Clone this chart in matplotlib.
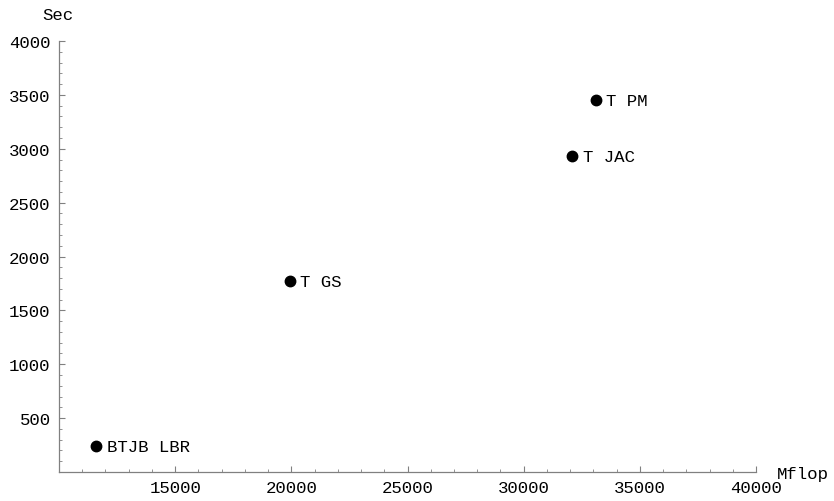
import matplotlib
matplotlib.use('Agg')
import matplotlib.pyplot as plt
from matplotlib.ticker import MultipleLocator

plt.rcParams.update({'font.family': 'Liberation Mono', 'font.size': 12.5})

# timings per method
names = ['BTJB LBR', 'T GS', 'T JAC', 'T PM']
mflop = [11600, 19940, 32100, 33100]
sec = [240, 1770, 2930, 3450]

x_major = [15000, 20000, 25000, 30000, 35000, 40000]
y_major = [500, 1000, 1500, 2000, 2500, 3000, 3500, 4000]

fig = plt.figure(figsize=(8.34, 5.02), dpi=100)
ax = fig.add_axes([59/834, 29/502, (756-59)/834, (473-42)/502])

ax.plot(mflop, sec, 'o', color='black', ms=7.5)
for n, xv, yv in zip(names, mflop, sec):
    ax.annotate(n, (xv, yv), xytext=(7.5, 0), textcoords='offset points',
                va='center', ha='left', fontsize=12.5)

ax.set_xlim(10000, 40000)
ax.set_ylim(0, 4000)
ax.set_xticks(x_major)
ax.set_yticks(y_major)
ax.xaxis.set_minor_locator(MultipleLocator(1000))
ax.yaxis.set_minor_locator(MultipleLocator(100))

for s in ['top', 'right']:
    ax.spines[s].set_visible(False)
for s in ['left', 'bottom']:
    ax.spines[s].set_color('#808080')
    ax.spines[s].set_linewidth(0.9)

ax.tick_params(which='both', direction='in', color='#808080', labelsize=12.5)
ax.tick_params(which='major', length=4, width=0.8, pad=6)
ax.tick_params(which='minor', length=2.5, width=0.6)

fig.text(58/834, 1 - 15/502, 'Sec', ha='center', va='center', fontsize=12.5)
fig.text(777/834, 1 - 475/502, 'Mflop', ha='left', va='center', fontsize=12.5)

fig.savefig('out.png', dpi=100)
